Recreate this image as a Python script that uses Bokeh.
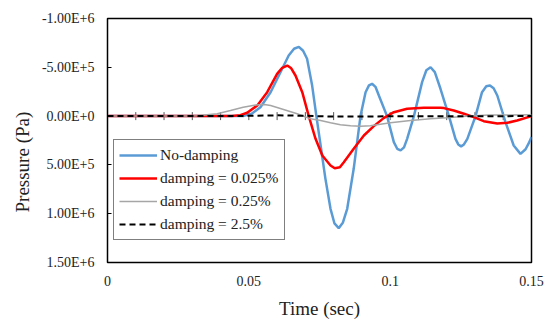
import math
from bokeh.plotting import figure
from bokeh.models import Range1d, FixedTicker, Legend, LegendItem, Title
from bokeh.embed import file_html
from bokeh.resources import INLINE

# Time (s) and pressure (Pa)
t_nodamp = [0, 0.045, 0.048, 0.051, 0.0541, 0.0577, 0.0612, 0.0641, 0.066, 0.0677, 0.0692,
            0.0706, 0.0724, 0.0739, 0.0754, 0.0771, 0.0789, 0.0803, 0.0818, 0.0833, 0.0848,
            0.0871, 0.0895, 0.0913, 0.0925, 0.0936, 0.0948, 0.096, 0.0989, 0.1013, 0.1025,
            0.1037, 0.1049, 0.106, 0.1084, 0.1113, 0.1128, 0.1143, 0.1158, 0.1178, 0.1208,
            0.1231, 0.1241, 0.1251, 0.1261, 0.1273, 0.1302, 0.1325, 0.134, 0.1353, 0.1366,
            0.1379, 0.1408, 0.1437, 0.1461, 0.1479, 0.149, 0.15]
p_nodamp = [0, 0, 0, -25e3, -91e3, -245e3, -450e3, -621e3, -690e3, -710e3, -670e3,
            -587e3, -313e3, 0, 301e3, 643e3, 950e3, 1.10e6, 1.148e6, 1.09e6, 950e3,
            540e3, 0, -245e3, -315e3, -331e3, -300e3, -211e3, 0, 267e3, 335e3,
            352e3, 320e3, 233e3, 0, -348e3, -470e3, -500e3, -450e3, -280e3, 0,
            233e3, 290e3, 310e3, 290e3, 233e3, 0, -245e3, -305e3, -313e3, -285e3,
            -211e3, 62e3, 301e3, 387e3, 340e3, 280e3, 215e3]

t_d0025 = [0, 0.044, 0.047, 0.0494, 0.053, 0.0565, 0.06, 0.0618, 0.0636, 0.065, 0.0665,
           0.0689, 0.0712, 0.0736, 0.076, 0.0789, 0.0804, 0.0822, 0.0836, 0.0871, 0.0907,
           0.0942, 0.0977, 0.1013, 0.106, 0.1119, 0.1178, 0.119, 0.1225, 0.1261, 0.1296,
           0.1331, 0.1379, 0.1414, 0.1449, 0.15]
p_d0025 = [0, 0, -10e3, -34e3, -109e3, -245e3, -433e3, -495e3, -518e3, -490e3, -416e3,
           -245e3, 0, 233e3, 404e3, 506e3, 535e3, 525e3, 472e3, 335e3, 199e3,
           103e3, 21e3, -40e3, -75e3, -85e3, -85e3, -82e3, -57e3, -24e3, 11e3,
           52e3, 76e3, 69e3, 45e3, 0]

t_d025 = [0, 0.03, 0.0317, 0.0388, 0.0435, 0.048, 0.0524, 0.0555, 0.0577, 0.062, 0.0671,
          0.0718, 0.0754, 0.0789, 0.0824, 0.086, 0.0895, 0.093, 0.1001, 0.1072, 0.1143,
          0.12, 0.128, 0.135, 0.15]
p_d025 = [0, 0, -3e3, -24e3, -57e3, -90e3, -113e3, -118e3, -108e3, -70e3, -24e3,
          28e3, 45e3, 69e3, 89e3, 100e3, 105e3, 100e3, 69e3, 45e3, 28e3,
          17e3, 0, -10e3, -13e3]

t_d25 = [0, 0.045, 0.06, 0.07, 0.08, 0.09, 0.1, 0.15]
p_d25 = [0, 0, -8e3, -3e3, 5e3, 5e3, 2e3, 0]

x_ticks = [0, 0.05, 0.1, 0.15]
x_tick_labels = ["0", "0.05", "0.1", "0.15"]
x_minor_ticks = [0.01, 0.02, 0.03, 0.04, 0.05, 0.06, 0.07, 0.08, 0.09, 0.1, 0.11, 0.12, 0.13, 0.14]
y_ticks = [-1.0e6, -5.0e5, 0, 5.0e5, 1.0e6, 1.5e6]
y_tick_labels = ["-1.00E+6", "-5.00E+5", "0.00E+0", "5.00E+5", "1.00E+6", "1.50E+6"]

series_names = ["No-damping", "damping = 0.025%", "damping = 0.25%", "damping = 2.5%"]

FONT = "Liberation Serif"
TXT = "#222222"

p = figure(width=544, height=322, output_backend="svg", toolbar_location=None,
           x_range=Range1d(0, 0.15), y_range=Range1d(1.5e6, -1.0e6),
           min_border_left=107, min_border_right=13, min_border_top=18, min_border_bottom=60)
p.xgrid.visible = False
p.ygrid.visible = False
p.outline_line_color = "black"
p.outline_line_width = 1.5
p.background_fill_color = "white"
p.border_fill_color = "white"

# small tick marks along the zero line (Excel axis crossing at 0)
p.scatter(x_minor_ticks, [0] * len(x_minor_ticks), marker="dash", angle=math.pi / 2,
          size=8, line_color="#555555", line_width=1)

r1 = p.line(t_nodamp, p_nodamp, line_color="#5B9BD5", line_width=2.5)
r2 = p.line(t_d0025, p_d0025, line_color="#FF0000", line_width=2.5)
r3 = p.line(t_d025, p_d025, line_color="#A6A6A6", line_width=1.5)
r4 = p.line(t_d25, p_d25, line_color="black", line_width=2, line_dash="6 4")

xa = p.xaxis[0]
xa.ticker = FixedTicker(ticks=x_ticks)
xa.major_label_overrides = {v: s for v, s in zip(x_ticks, x_tick_labels)}
xa.major_tick_in = 0
xa.major_tick_out = 0
xa.minor_tick_in = 0
xa.minor_tick_out = 0
xa.axis_line_color = "black"
xa.major_label_standoff = 13
xa.major_label_text_font = FONT
xa.major_label_text_font_size = "14px"
xa.major_label_text_color = TXT
xa.axis_label = "Time (sec)"
xa.axis_label_text_font = FONT
xa.axis_label_text_font_size = "19px"
xa.axis_label_text_font_style = "normal"
xa.axis_label_text_color = TXT
xa.axis_label_standoff = 9

ya = p.yaxis[0]
ya.ticker = FixedTicker(ticks=y_ticks)
ya.major_label_overrides = {v: s for v, s in zip(y_ticks, y_tick_labels)}
ya.major_tick_in = 4
ya.major_tick_out = 0
ya.minor_tick_in = 0
ya.minor_tick_out = 0
ya.axis_line_color = "black"
ya.major_label_standoff = 13
ya.major_label_text_font = FONT
ya.major_label_text_font_size = "14px"
ya.major_label_text_color = TXT

ytitle = Title(text="Pressure (Pa)", align="left", offset=50,
               text_font=FONT, text_font_size="19px", text_font_style="normal",
               text_color=TXT, standoff=12)
p.add_layout(ytitle, "left")

legend = Legend(items=[LegendItem(label=n, renderers=[r]) for n, r in zip(series_names, [r1, r2, r3, r4])],
                location=(6, 22), orientation="vertical",
                label_text_font=FONT, label_text_font_size="15.5px", label_text_color=TXT,
                glyph_width=38, glyph_height=20, label_height=20, label_standoff=3,
                spacing=3, padding=5, margin=0,
                border_line_color="black", border_line_width=1.2,
                background_fill_color="white", background_fill_alpha=1.0)
p.add_layout(legend, "center")

open("out.html", "w").write(file_html(p, INLINE))
